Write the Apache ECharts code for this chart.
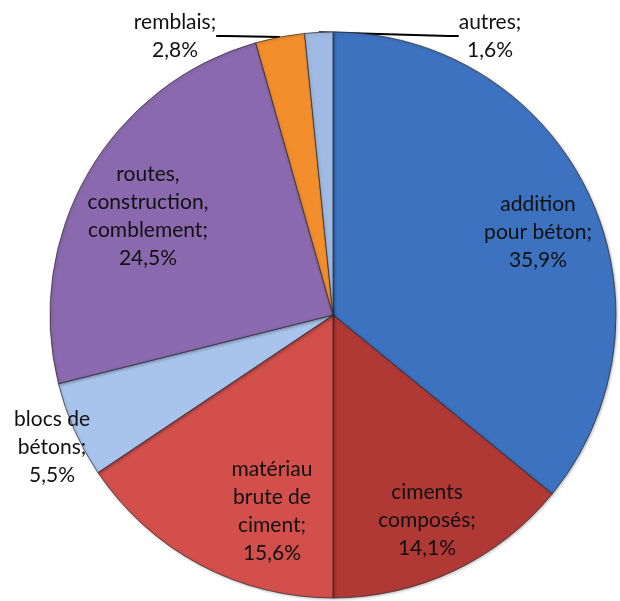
<!DOCTYPE html>
<html>
<head>
<meta charset="utf-8">
<script src="https://cdn.jsdelivr.net/npm/echarts@6/dist/echarts.min.js"></script>
<style>
    html, body { margin: 0; padding: 0; background: #fff; }
    #chart { width: 620px; height: 601px; }
</style>
</head>
<body>
<div id="chart"></div>
<script>
    // données du graphique
    var categories = ['addition\npour béton', 'ciments\ncomposés', 'matériau\nbrute de\nciment', 'blocs de\nbétons', 'routes,\nconstruction,\ncomblement', 'remblais', 'autres'];
    var values = [35.9, 14.1, 15.6, 5.5, 24.5, 2.8, 1.6];
    var colors = ['#3d72c0', '#b03835', '#d24f4c', '#a8c3ec', '#8a69ae', '#f28e2c', '#9fbae3'];

    // position des étiquettes (centre du bloc de texte)
    var labelPos = [[538, 232], [427, 520], [272, 511], [52, 447], [148, 216], [175, 36], [490, 36]];

    var myChart = echarts.init(document.getElementById('chart'));

    var pieData = categories.map(function (name, i) {
        var inside = (i <= 2 || i === 4);
        return {
            name: name,
            value: values[i],
            itemStyle: { color: colors[i] },
            label: { show: true, position: inside ? 'inside' : 'outside' },
            labelLine: { show: i >= 5 }
        };
    });

    myChart.setOption({
        animation: false,
        series: [
            {
                type: 'pie',
                center: [333, 315],
                radius: 283,
                startAngle: 90,
                clockwise: true,
                avoidLabelOverlap: false,
                data: pieData,
                itemStyle: {
                    borderColor: 'rgba(40,40,40,0.7)',
                    borderWidth: 1,
                    shadowColor: 'rgba(0,0,0,0.25)',
                    shadowBlur: 3,
                    shadowOffsetX: 1,
                    shadowOffsetY: 1
                },
                label: {
                    formatter: function (p) {
                        return p.name + ';\n' + p.value.toFixed(1).replace('.', ',') + '%';
                    },
                    fontFamily: 'Lato',
                    fontSize: 21,
                    lineHeight: 28,
                    color: '#111',
                    align: 'center',
                    overflow: 'none'
                },
                labelLine: {
                    length: 10,
                    length2: 10,
                    lineStyle: { color: '#000', width: 2 }
                },
                labelLayout: function (params) {
                    var pos = labelPos[params.dataIndex];
                    return {
                        x: pos[0],
                        y: pos[1],
                        align: 'center',
                        verticalAlign: 'middle',
                        hideOverlap: false
                    };
                }
            }
        ]
    });
</script>
</body>
</html>
